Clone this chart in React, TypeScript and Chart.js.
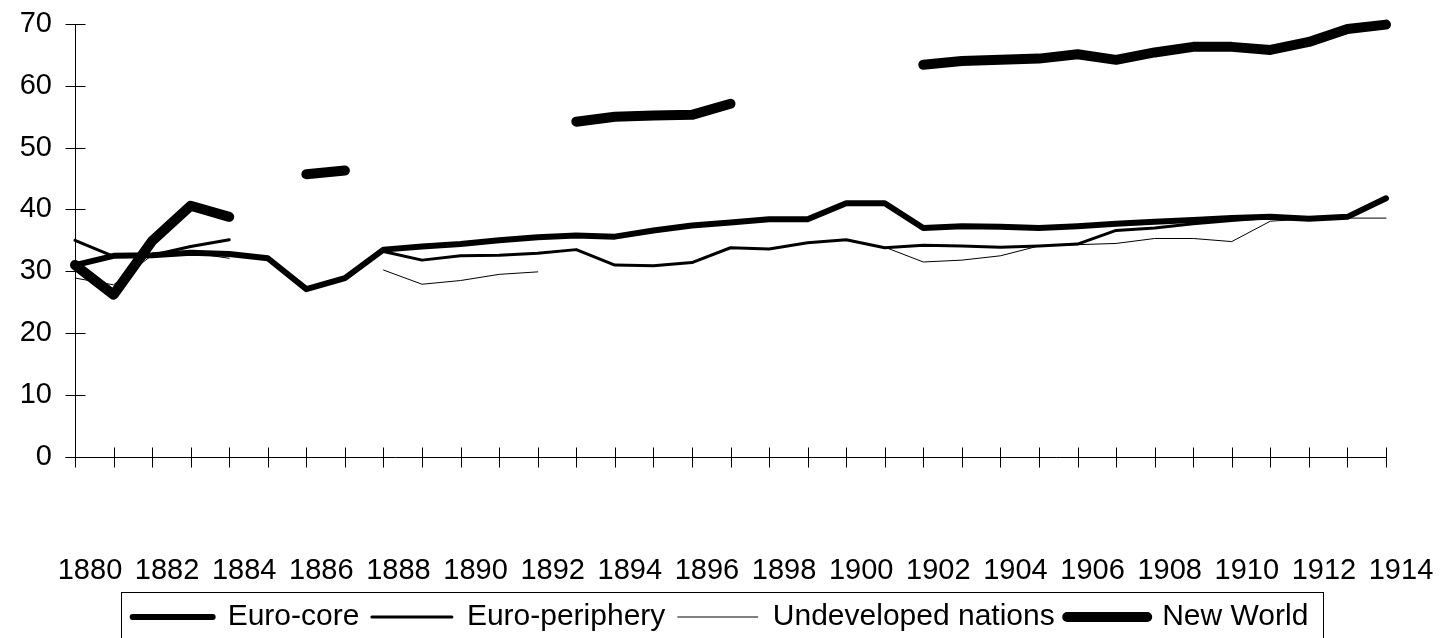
import React, { useEffect, useRef } from "react";
import { Chart, registerables } from "chart.js";

Chart.register(...registerables);

// Categories (years)
const years = [
  "1880", "1881", "1882", "1883", "1884", "1885", "1886", "1887", "1888", "1889",
  "1890", "1891", "1892", "1893", "1894", "1895", "1896", "1897", "1898", "1899",
  "1900", "1901", "1902", "1903", "1904", "1905", "1906", "1907", "1908", "1909",
  "1910", "1911", "1912", "1913", "1914",
];

// Series values
const euroCore = [
  31.0, 32.5, 32.6, 33.0, 32.8, 32.1, 27.1, 28.9, 33.5, 34.0,
  34.4, 35.0, 35.5, 35.8, 35.6, 36.6, 37.4, 37.9, 38.4, 38.4,
  41.0, 41.0, 37.0, 37.3, 37.2, 37.0, 37.3, 37.7, 38.0, 38.3,
  38.6, 38.8, 38.5, 38.8, 41.8,
];

const euroPeriphery = [
  35.0, 32.4, 32.6, 34.0, 35.1, null, null, null, 33.2, 31.8,
  32.5, 32.6, 32.9, 33.5, 31.0, 30.9, 31.4, 33.8, 33.6, 34.6,
  35.1, 33.8, 34.2, 34.1, 33.9, 34.1, 34.4, 36.6, 37.0, 37.7,
  38.2, 38.7, 38.4, 38.7, 41.8,
];

const undevelopedNations = [
  28.9, 27.8, 32.6, 33.0, 32.1, null, null, null, 30.2, 27.9,
  28.5, 29.5, 29.9, null, null, null, null, null, null, null,
  null, 33.9, 31.5, 31.8, 32.5, 34.1, 34.3, 34.5, 35.3, 35.3,
  34.8, 38.1, 38.5, 38.6, 38.6,
];

const newWorld = [
  31.0, 26.2, 34.9, 40.6, 38.8, null, 45.7, 46.3, null, null,
  null, null, null, 54.2, 55.0, 55.2, 55.3, 57.1, null, null,
  null, null, 63.4, 64.0, 64.2, 64.4, 65.1, 64.2, 65.4, 66.3,
  66.3, 65.8, 67.1, 69.2, 69.9,
];

const seriesNames = ["Euro-core", "Euro-periphery", "Undeveloped nations", "New World"];
const seriesWidths = [6, 3, 1, 10];

const FONT = "'Liberation Sans', Arial, Helvetica, sans-serif";

const crossTicks = {
  id: "crossTicks",
  beforeDatasetsDraw(chart: any) {
    const { ctx } = chart;
    const x = chart.scales.x;
    const y = chart.scales.y;
    const ax = Math.round(x.left) + 0.5;
    const y0 = Math.round(y.getPixelForValue(0)) + 0.5;
    const yTop = Math.round(y.getPixelForValue(70)) + 0.5;
    ctx.save();
    ctx.strokeStyle = "#000";
    ctx.lineWidth = 1;
    ctx.beginPath();
    ctx.moveTo(ax, yTop);
    ctx.lineTo(ax, y0);
    ctx.moveTo(ax - 10, y0);
    ctx.lineTo(Math.round(x.right) + 0.5, y0);
    y.ticks.forEach((t: any) => {
      const py = Math.round(y.getPixelForValue(t.value)) + 0.5;
      ctx.moveTo(ax - 10, py);
      ctx.lineTo(ax + 10, py);
    });
    for (let i = 0; i < years.length; i++) {
      const px = Math.round(x.getPixelForTick(i)) + 0.5;
      ctx.moveTo(px, y0 - 10);
      ctx.lineTo(px, y0 + 10);
    }
    ctx.stroke();
    ctx.restore();
  },
};

const legendFrame = {
  id: "legendFrame",
  afterDraw(chart: any) {
    const lg = chart.legend;
    if (!lg || !lg.legendHitBoxes || !lg.legendHitBoxes.length) return;
    const hb = lg.legendHitBoxes;
    const last = hb[hb.length - 1];
    const left = Math.round(hb[0].left - 12) + 0.5;
    const right = Math.round(last.left + last.width + 15) + 0.5;
    const top = Math.round(lg.top + 2.5) + 0.5;
    const { ctx } = chart;
    ctx.save();
    ctx.strokeStyle = "#000";
    ctx.lineWidth = 1;
    ctx.strokeRect(left, top, right - left, 200);
    ctx.restore();
  },
};

export default function App() {
  const canvasRef = useRef<HTMLCanvasElement | null>(null);

  useEffect(() => {
    document.body.style.margin = "0";
    const canvas = canvasRef.current;
    if (!canvas) return;
    const allData = [euroCore, euroPeriphery, undevelopedNations, newWorld];
    const chart = new Chart(canvas, {
      type: "line",
      data: {
        labels: years,
        datasets: allData.map((d, i) => ({
          label: seriesNames[i],
          data: d,
          borderColor: "#000",
          backgroundColor: "#000",
          borderWidth: seriesWidths[i],
          pointRadius: 0,
          pointHoverRadius: 0,
          borderCapStyle: "round",
          borderJoinStyle: "round",
          spanGaps: false,
          tension: 0,
          clip: false,
          fill: false,
        })),
      },
      options: {
        responsive: false,
        animation: false,
        events: [],
        layout: { padding: { left: 0, right: 0, top: 24, bottom: 0 } },
        scales: {
          x: {
            type: "category",
            offset: false,
            grid: { display: false, drawTicks: false },
            border: { display: false },
            ticks: {
              autoSkip: false,
              maxRotation: 0,
              minRotation: 0,
              padding: 97,
              labelOffset: 15,
              color: "#000",
              font: { family: FONT, size: 29 },
              callback: (_v: any, i: number) => (i % 2 === 0 ? years[i] : ""),
            },
            afterFit: (s: any) => {
              s.paddingLeft = 0;
              s.paddingRight = 55;
              s.height = 132.8;
            },
          },
          y: {
            min: 0,
            max: 70,
            grid: { display: false, drawTicks: false },
            border: { display: false },
            ticks: {
              stepSize: 10,
              padding: 23,
              color: "#000",
              font: { family: FONT, size: 29 },
            },
            afterFit: (s: any) => {
              s.width = 75;
              s.paddingTop = 0;
              s.paddingBottom = 0;
            },
          },
        },
        plugins: {
          tooltip: { enabled: false },
          title: { display: false },
          legend: {
            display: true,
            position: "bottom",
            labels: {
              usePointStyle: true,
              pointStyle: "line",
              pointStyleWidth: 80,
              padding: 12.5,
              color: "#000",
              font: { family: FONT, size: 30 },
              generateLabels: (ch: any) =>
                ch.data.datasets.map((ds: any, i: number) => ({
                  text: ds.label,
                  fillStyle: "#000",
                  strokeStyle: "#000",
                  fontColor: "#000",
                  lineWidth: ds.borderWidth,
                  lineCap: "round",
                  pointStyle: "line",
                  hidden: false,
                  datasetIndex: i,
                })),
            },
          },
        },
      },
      plugins: [crossTicks, legendFrame],
    } as any);
    return () => chart.destroy();
  }, []);

  return (
    <div
      style={{
        position: "fixed",
        left: 0,
        top: 0,
        width: 1441,
        height: 638,
        overflow: "hidden",
        background: "#fff",
      }}
    >
      <canvas ref={canvasRef} width={1441} height={642} style={{ display: "block" }} />
    </div>
  );
}
